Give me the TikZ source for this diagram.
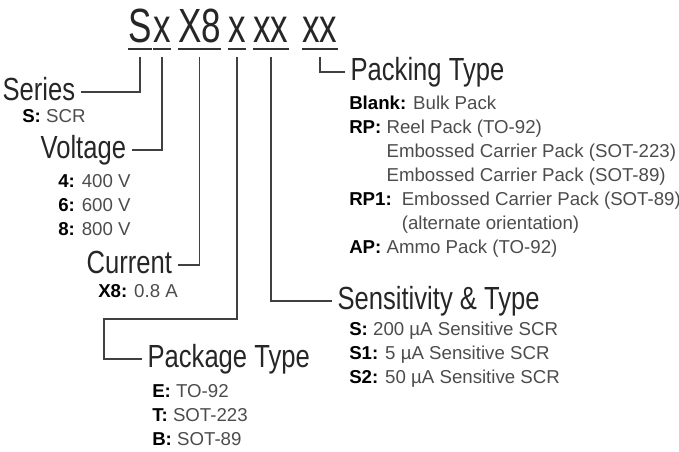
\documentclass[tikz,border=0pt]{standalone}
\usepackage{fontspec}
\setmainfont{Liberation Sans}
\newfontfamily\titlefont{Liberation Sans}[FakeStretch=0.73]
\newfontfamily\headfont{Liberation Sans}[FakeStretch=0.8]
\usetikzlibrary{positioning}
\newcommand{\itemkey}[1]{\textbf{\color{black}#1}}
\newenvironment{itemlist}{\begin{tabular}[t]{@{}l@{}}}{\end{tabular}}

\begin{document}
\begin{tikzpicture}[
        x=0.75pt, y=-0.75pt,
        every node/.style={inner sep=0pt},
        code/.style={font=\titlefont\fontsize{36}{36}\selectfont, text=black!85, anchor=base west, text depth=0pt},
        heading/.style={font=\headfont\fontsize{24}{28}\selectfont, text=black!85, anchor=base west, text height=15pt, text depth=3pt, inner xsep=4pt},
        desc/.style={font=\fontsize{14}{18}\selectfont, text=black!70, anchor=base west},
        leader/.style={draw=black!75, line width=1.1pt},
        uline/.style={draw=black!80, line width=1.5pt}
    ]
    \useasboundingbox (0,0) rectangle (679,451);

    % Part number
    \node[code] (ser)  at (128,42) {S};
    \node[code] (volt) at (153,42) {x};
    \node[code] (curr) at (178,42) {X8};
    \node[code] (pkg)  at (228,42) {x};
    \node[code] (sens) at (253,42) {xx};
    \node[code] (pack) at (302,42) {xx};
    \foreach \n in {ser,volt,curr,pkg,sens,pack}
        \draw[uline] ([yshift=-5pt]\n.south west) -- ([yshift=-5pt]\n.south east);

    % Headings
    \node[heading] (series)      at (-3,100)  {Series};
    \node[heading] (voltage)     at (35,158)  {Voltage};
    \node[heading] (current)     at (81,273)  {Current};
    \node[heading] (package)     at (142,367) {Package Type};
    \node[heading] (sensitivity) at (332,309) {Sensitivity \& Type};
    \node[heading] (packing)     at (345,80)  {Packing Type};

    % Descriptions
    \node[desc] (seriesdesc) at ([shift={(25,22)}]series.base west) {\itemkey{S:} SCR};
    \node[desc] (voltdesc) at ([shift={(23,29)}]voltage.base west) {\begin{itemlist}
        \itemkey{4:} 400 V \\ \itemkey{6:} 600 V \\ \itemkey{8:} 800 V
    \end{itemlist}};
    \node[desc] (currdesc) at ([shift={(17,24)}]current.base west) {\itemkey{X8:} 0.8 A};
    \node[desc] (pkgdesc) at ([shift={(10,30)}]package.base west) {\begin{itemlist}
        \itemkey{E:} TO-92 \\ \itemkey{T:} SOT-223 \\ \itemkey{B:} SOT-89
    \end{itemlist}};
    \node[desc] (sensdesc) at ([shift={(17,26)}]sensitivity.base west) {\begin{itemlist}
        \itemkey{S:} 200 µA Sensitive SCR \\ \itemkey{S1:} 5 µA Sensitive SCR \\ \itemkey{S2:} 50 µA Sensitive SCR
    \end{itemlist}};
    \node[desc] (packdesc) at ([shift={(4,29)}]packing.base west) {\begin{itemlist}
        \itemkey{Blank:} Bulk Pack \\
        \itemkey{RP:} Reel Pack (TO-92) \\
        \phantom{\textbf{RP:} }Embossed Carrier Pack (SOT-223) \\
        \phantom{\textbf{RP:} }Embossed Carrier Pack (SOT-89) \\
        \itemkey{RP1:}\hspace{7.5pt}Embossed Carrier Pack (SOT-89) \\
        \phantom{\textbf{RP1:}}\hspace{7.5pt}(alternate orientation) \\
        \itemkey{AP:} Ammo Pack (TO-92)
    \end{itemlist}};

    % Leaders
    \coordinate (bend) at (104,319);
    \draw[leader] ([yshift=-11pt]ser.south) |- (series.east);
    \draw[leader] ([yshift=-11pt]volt.south) |- (voltage.east);
    \draw[leader] ([yshift=-11pt]curr.south) |- (current.east);
    \draw[leader] ([yshift=-11pt]pkg.south) |- (bend) |- (package.west);
    \draw[leader] ([yshift=-11pt]sens.south) |- (sensitivity.west);
    \draw[leader] ([yshift=-11pt]pack.south) |- (packing.west);
\end{tikzpicture}
\end{document}
